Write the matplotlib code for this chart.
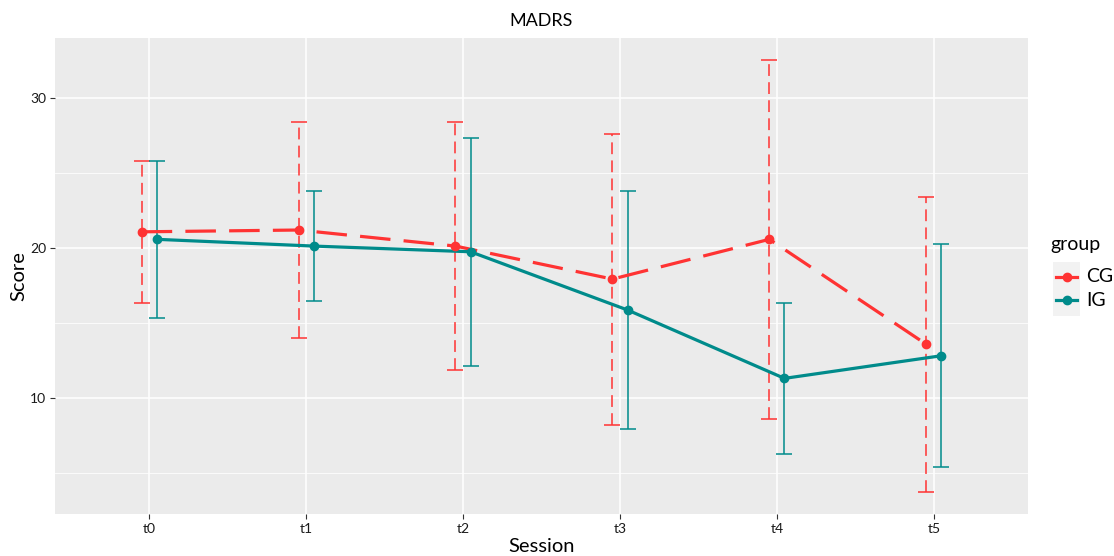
import matplotlib
matplotlib.use("Agg")
import matplotlib.pyplot as plt
from matplotlib.patches import Rectangle
from matplotlib.lines import Line2D
import numpy as np

plt.rcParams['font.family'] = ['Lato', 'DejaVu Sans']
plt.rcParams['lines.scale_dashes'] = False

# Data
sessions = ['t0', 't1', 't2', 't3', 't4', 't5']
cg_mean = [21.1, 21.22, 20.15, 17.95, 20.6, 13.6]
cg_sd = [4.73, 7.2, 8.25, 9.7, 11.97, 9.85]
ig_mean = [20.6, 20.15, 19.77, 15.89, 11.33, 12.84]
ig_sd = [5.22, 3.67, 7.59, 7.95, 5.04, 7.42]
groups = ['CG', 'IG']

red = '#FF3333'
teal = '#008B8B'

W, H = 1114, 556
fig = plt.figure(figsize=(W / 100, H / 100), dpi=100)
ax = fig.add_axes([55 / W, 42 / H, 973 / W, 476 / H])
ax.set_facecolor('#EBEBEB')
for s in ax.spines.values():
    s.set_visible(False)

x = np.arange(len(sessions))
dodge = 0.048

# grid
ax.set_yticks([10, 20, 30])
ax.set_yticks([5, 15, 25], minor=True)
ax.grid(True, which='major', color='white', linewidth=1.1)
ax.grid(True, which='minor', axis='y', color='white', linewidth=0.55)
ax.set_axisbelow(True)

# control group (dashed)
ax.errorbar(x - dodge, cg_mean, yerr=cg_sd, fmt='none', ecolor=red,
            elinewidth=1.1, capsize=5.8, capthick=1.1, zorder=3)
for lc in ax.containers[-1].lines[2]:
    lc.set_linestyle((0, (8.5, 4.5)))
ax.plot(x - dodge, cg_mean, color=red, linewidth=2.3,
        linestyle=(0, (22, 9.5)), zorder=4)
ax.plot(x - dodge, cg_mean, 'o', color=red, markersize=6, zorder=5)

# intervention group (solid)
ax.errorbar(x + dodge, ig_mean, yerr=ig_sd, fmt='none', ecolor=teal,
            elinewidth=1.1, capsize=5.8, capthick=1.1, zorder=3)
ax.plot(x + dodge, ig_mean, color=teal, linewidth=2.3, zorder=4)
ax.plot(x + dodge, ig_mean, 'o', color=teal, markersize=6, zorder=5)

ax.set_xticks(x)
ax.set_xticklabels(sessions)
ax.set_xlim(-0.6, 5.6)
ax.set_ylim(2.29, 34.02)

ax.tick_params(axis='both', which='major', length=3.5, width=0.8,
               color='#333333', labelsize=10, labelcolor='#1a1a1a', pad=3)
ax.tick_params(axis='both', which='minor', length=0)

ax.set_title('MADRS', fontsize=13, pad=9)
ax.set_xlabel('Session', fontsize=14.5, labelpad=2)
ax.set_ylabel('Score', fontsize=14.5, labelpad=2)

# legend, drawn by hand in figure pixels
fig.patches.append(Rectangle((1053 / W, 1 - 316 / H), 27 / W, 54 / H,
                             transform=fig.transFigure, facecolor='#F2F2F2',
                             edgecolor='none', zorder=0))
fig.text(1050 / W, 1 - 245 / H, 'group', fontsize=14, ha='left', va='center')
for name, col, yp in zip(groups, [red, teal], [277, 300]):
    yf = 1 - yp / H
    fig.add_artist(Line2D([1056 / W, 1077 / W], [yf, yf], color=col,
                          linewidth=2.3, transform=fig.transFigure))
    fig.add_artist(Line2D([1066.5 / W], [yf], color=col, marker='o',
                          markersize=6, transform=fig.transFigure))
    fig.text(1086 / W, yf, name, fontsize=14, ha='left', va='center')

fig.savefig('out.png', dpi=100)
